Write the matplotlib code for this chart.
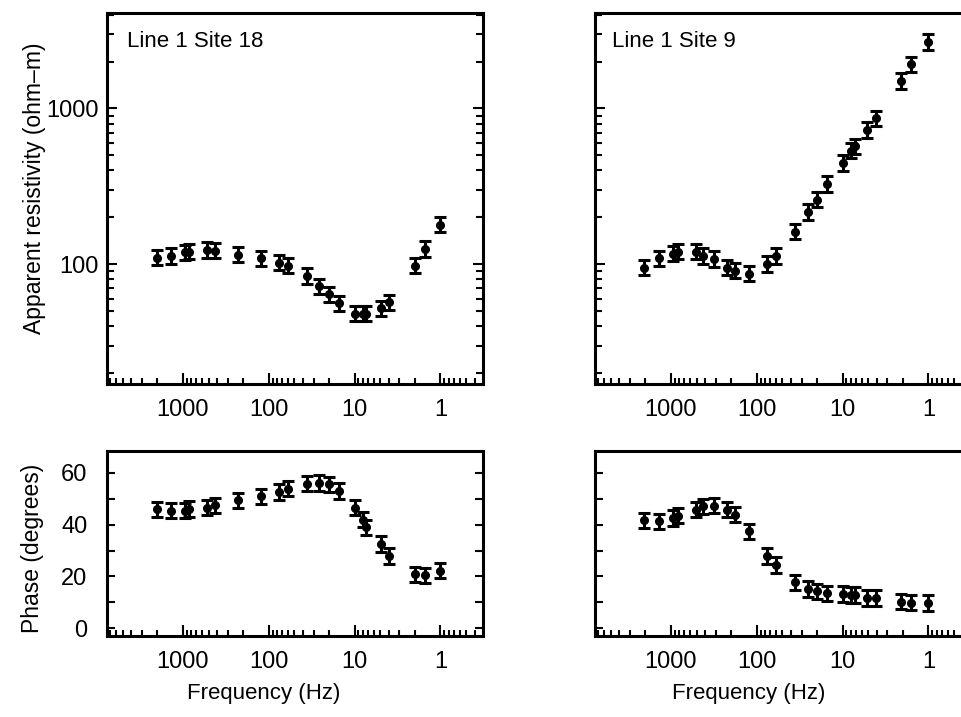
import numpy as np
import matplotlib
matplotlib.use("Agg")
import matplotlib.pyplot as plt
from matplotlib.ticker import LogLocator, NullFormatter, FixedLocator

plt.rcParams['font.family'] = ['Liberation Sans', 'DejaVu Sans']

# ---- data ----
freq_18 = [2000, 1380, 940, 840, 520, 420, 226, 123, 76, 59, 36, 25.7, 20, 15,
           10, 7.9, 7.3, 4.9, 4.0, 2.0, 1.5, 1.0]
rho_18 = [110, 113, 119, 120, 123, 122, 115, 109, 102, 98, 84, 72, 64, 56,
          48, 48, 48, 52, 57, 98, 125, 179]
phase_18 = [45.9, 45.5, 45.5, 46.0, 46.6, 47.5, 49.4, 51.0, 52.6, 54.0, 55.9,
            56.1, 55.6, 53.0, 46.6, 42.0, 39.0, 32.6, 28.0, 20.8, 20.4, 22.3]

freq_9 = [2040, 1370, 932, 830, 512, 418, 314, 223, 179, 123, 75, 60, 36, 25,
          20, 15, 10, 8, 7.2, 5.2, 4.1, 2.1, 1.58, 1.0]
rho_9 = [95, 109, 117, 120, 120, 113, 108, 95, 91, 87, 100, 113, 162, 216,
         260, 327, 446, 535, 570, 728, 864, 1500, 1920, 2670]
phase_9 = [41.7, 41.3, 42.6, 43.5, 45.8, 47.1, 47.4, 45.8, 43.9, 37.4, 28.0,
           24.5, 17.7, 15.1, 14.2, 13.5, 13.2, 12.9, 12.9, 11.6, 11.6, 10.3,
           9.9, 9.7]

rho_err = 0.12      # relative error on resistivity
phase_err = 3.0     # degrees

site_titles = ['Line 1 Site 18', 'Line 1 Site 9']
x_ticks = [1000, 100, 10, 1]
x_ticklabels = ['1000', '100', '10', '1']

W, H = 961, 717
fig = plt.figure(figsize=(W / 100, H / 100), dpi=100)


def px_axes(x0, y0, x1, y1):
    return fig.add_axes([x0 / W, 1 - y1 / H, (x1 - x0) / W, (y1 - y0) / H])


ax_rho_l = px_axes(107, 13, 483, 384)
ax_rho_r = px_axes(595, 13, 971, 384)
ax_ph_l = px_axes(107, 451, 483, 636)
ax_ph_r = px_axes(595, 451, 971, 636)

eb_style = dict(fmt='o', color='black', ms=5.5, elinewidth=2.2, capsize=4.3,
                capthick=2.2)


def style_x(ax):
    ax.set_xscale('log')
    ax.set_xlim(7600, 0.32)
    ax.xaxis.set_major_locator(FixedLocator(x_ticks))
    ax.set_xticklabels(x_ticklabels)
    ax.xaxis.set_minor_locator(LogLocator(base=10, subs=np.arange(2, 10)))
    ax.xaxis.set_minor_formatter(NullFormatter())
    ax.tick_params(axis='x', which='both', direction='in', top=False,
                   labelsize=17, pad=11, width=1.5)
    ax.tick_params(axis='x', which='major', length=8)
    ax.tick_params(axis='x', which='minor', length=4.5)
    for s in ax.spines.values():
        s.set_linewidth(2.2)


def draw(ax_r, ax_p, f, rho, ph, title, title_x, labels):
    rho = np.array(rho)
    lo = rho - rho / (1 + rho_err)
    hi = rho * rho_err
    ax_r.errorbar(f, rho, yerr=[lo, hi], **eb_style)
    ax_r.set_yscale('log')
    ax_r.set_ylim(17, 4100)
    ax_r.yaxis.set_major_locator(FixedLocator([100, 1000]))
    ax_r.yaxis.set_minor_locator(LogLocator(base=10, subs=np.arange(2, 10)))
    ax_r.yaxis.set_minor_formatter(NullFormatter())
    ax_r.tick_params(axis='y', which='both', direction='in', left=True,
                     right=True, labelsize=17, pad=6, width=1.5)
    ax_r.tick_params(axis='y', which='major', length=7)
    ax_r.tick_params(axis='y', which='minor', length=5)
    if labels:
        ax_r.set_yticklabels(['100', '1000'])
    else:
        ax_r.tick_params(axis='y', labelleft=False)
    style_x(ax_r)
    ax_r.text(title_x, 0.951, title, transform=ax_r.transAxes, fontsize=16,
              va='top', ha='left')

    ax_p.errorbar(f, ph, yerr=phase_err, **eb_style)
    ax_p.set_ylim(-3, 68.5)
    ax_p.yaxis.set_major_locator(FixedLocator([0, 20, 40, 60]))
    ax_p.yaxis.set_minor_locator(FixedLocator([10, 30, 50]))
    ax_p.tick_params(axis='y', which='both', direction='in', left=True,
                     right=True, labelsize=17, pad=14, width=1.5, length=6)
    if not labels:
        ax_p.tick_params(axis='y', labelleft=False)
    style_x(ax_p)


draw(ax_rho_l, ax_ph_l, freq_18, rho_18, phase_18, site_titles[0], 0.052, True)
draw(ax_rho_r, ax_ph_r, freq_9, rho_9, phase_9, site_titles[1], 0.045, False)

fig.text(35 / W, 1 - 188 / H, 'Apparent resistivity (ohm\u2013m)', rotation=90,
         fontsize=16.5, ha='center', va='center')
fig.text(33 / W, 1 - 548 / H, 'Phase (degrees)', rotation=90,
         fontsize=16.5, ha='center', va='center')
fig.text(264 / W, 1 - 693 / H, 'Frequency (Hz)', fontsize=16,
         ha='center', va='center')
fig.text(749 / W, 1 - 693 / H, 'Frequency (Hz)', fontsize=16,
         ha='center', va='center')

fig.savefig('out.png', dpi=100)
